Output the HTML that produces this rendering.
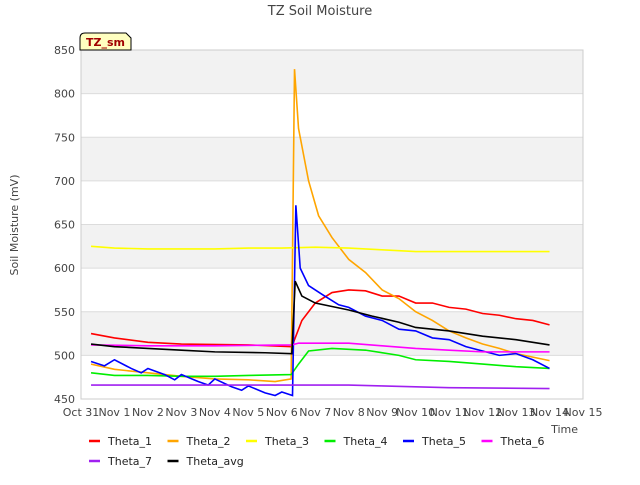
<!DOCTYPE html>
<html><head><meta charset="utf-8"><style>
body{margin:0;background:#fff;font-family:"Liberation Sans","DejaVu Sans",sans-serif}
</style></head><body>
<svg id="c" width="640" height="480" viewBox="0 0 640 480" xmlns="http://www.w3.org/2000/svg" font-family="DejaVu Sans, Liberation Sans, sans-serif">
<rect width="640" height="480" fill="#fff"/>
<text x="320" y="15" text-anchor="middle" font-size="13" fill="#444">TZ Soil Moisture</text>
<g id="bands"></g><g id="grid"></g><g id="axes"></g><g id="series"></g>
<text transform="translate(18,225) rotate(-90)" text-anchor="middle" font-size="11" fill="#444">Soil Moisture (mV)</text>
<text x="578" y="433" text-anchor="end" font-size="11" fill="#444">Time</text>
<g>
<path d="M80,50 L80,38 Q80,33 85,33 L126,33 L131,38 L131,50 Z" fill="#ffffc0" stroke="#000"/>
<text x="86" y="46" font-size="11" font-weight="bold" fill="#a00000">TZ_sm</text>
</g>
<g id="legend"></g>
</svg>
<script>
const names=["Theta_1","Theta_2","Theta_3","Theta_4","Theta_5","Theta_6","Theta_7","Theta_avg"];
const colors=["#ff0000","#ffa500","#ffff00","#00ee00","#0000ff","#ff00ff","#a020f0","#000000"];
const xTickLabels=["Oct 31","Nov 1","Nov 2","Nov 3","Nov 4","Nov 5","Nov 6","Nov 7","Nov 8","Nov 9","Nov 10","Nov 11","Nov 12","Nov 13","Nov 14","Nov 15"];
const yTicks=[450,500,550,600,650,700,750,800,850];
const t1=[[0.3,525],[1,520],[2,515],[3,513],[5,512],[6.3,510],[6.6,540],[7,560],[7.5,572],[8,575],[8.5,574],[9,568],[9.5,568],[10,560],[10.5,560],[11,555],[11.5,553],[12,548],[12.5,546],[13,542],[13.5,540],[14,535]];
const t2=[[0.3,490],[1,484],[2,480],[3,476],[4,473],[5,472],[5.8,470],[6.28,473],[6.38,828],[6.5,760],[6.8,700],[7.1,660],[7.5,635],[8,610],[8.5,595],[9,575],[9.5,565],[10,550],[10.5,540],[11,528],[11.5,520],[12,513],[12.5,508],[13,502],[13.5,498],[14,494]];
const t3=[[0.3,625],[1,623],[2,622],[3,622],[4,622],[5,623],[6,623],[7,624],[8,623],[9,621],[10,619],[11,619],[12,619],[13,619],[14,619]];
const t4=[[0.3,480],[1,477],[2,477],[3,476],[4,476],[5,477],[6.28,478],[6.5,490],[6.8,505],[7.5,508],[8.5,506],[9.5,500],[10,495],[11,493],[12,490],[13,487],[14,485]];
const t5=[[0.3,493],[0.7,488],[1,495],[1.5,485],[1.8,480],[2,485],[2.5,478],[2.8,472],[3,478],[3.5,470],[3.8,466],[4,473],[4.5,464],[4.8,460],[5,465],[5.5,457],[5.8,454],[6,458],[6.32,454],[6.42,672],[6.55,600],[6.8,580],[7.2,570],[7.7,558],[8,555],[8.5,545],[9,540],[9.5,530],[10,528],[10.5,520],[11,518],[11.5,510],[12,505],[12.5,500],[13,502],[13.5,495],[14,485]];
const t6=[[0.3,512],[2,511],[4,511],[6.3,512],[6.5,514],[8,514],[9,511],[10,508],[11,506],[12,504],[14,504]];
const t7=[[0.3,466],[4,466],[8,466],[9,465],[10,464],[11,463],[14,462]];
const tavg=[[0.3,513],[1,510],[2,508],[3,506],[4,504],[5.5,503],[6.3,502],[6.4,585],[6.6,568],[7,560],[8,552],[8.7,545],[9.5,538],[10,532],[11,528],[12,522],[13,518],[14,512]];
const allSeries=[t1,t2,t3,t4,t5,t6,t7,tavg];
const L=81,R=583,T=50,B=399,ymin=450,ymax=850,xmax=15;
const xs=d=>L+d/xmax*(R-L), ys=v=>B-(v-ymin)/(ymax-ymin)*(B-T);
const NS="http://www.w3.org/2000/svg";
function mk(p,tag,a){const e=document.createElementNS(NS,tag);for(const k in a)e.setAttribute(k,a[k]);document.getElementById(p).appendChild(e);return e;}
for(let i=0;i<yTicks.length-1;i++){if(i%2==1){const r=mk('bands','rect',{x:L,y:ys(yTicks[i+1]),width:R-L,height:ys(yTicks[i])-ys(yTicks[i+1]),fill:'#f2f2f2'});

}}
yTicks.forEach(v=>{const g=mk('grid','line',{x1:L,x2:R,y1:ys(v),y2:ys(v),stroke:'#dcdcdc'});


const t=mk('axes','text',{x:L-6,y:ys(v)+4,'text-anchor':'end','font-size':11,fill:'#444'});t.textContent=v;

});
mk('axes','rect',{x:L,y:T,width:R-L,height:B-T,fill:'none',stroke:'#ccc'});
xTickLabels.forEach((s,i)=>{const t=mk('axes','text',{x:xs(i),y:B+17,'text-anchor':'middle','font-size':11,fill:'#444'});t.textContent=s;

});
allSeries.forEach((d,i)=>{const p=mk('series','polyline',{points:d.map(q=>xs(q[0])+','+ys(q[1])).join(' '),fill:'none',stroke:colors[i],'stroke-width':1.6});

});
names.forEach((n,i)=>{const col=i%6,row=Math.floor(i/6);const x=89+col*78.5,y=441+row*20;
const g=mk('legend','g',{});


const l=document.createElementNS(NS,'line');l.setAttribute('x1',x);l.setAttribute('x2',x+11);l.setAttribute('y1',y);l.setAttribute('y2',y);l.setAttribute('stroke',colors[i]);l.setAttribute('stroke-width',2.5);g.appendChild(l);
const t=document.createElementNS(NS,'text');t.setAttribute('x',x+19);t.setAttribute('y',y+4);t.setAttribute('font-size',11);t.setAttribute('fill','#222');t.textContent=n;g.appendChild(t);});
</script>
</body></html>
